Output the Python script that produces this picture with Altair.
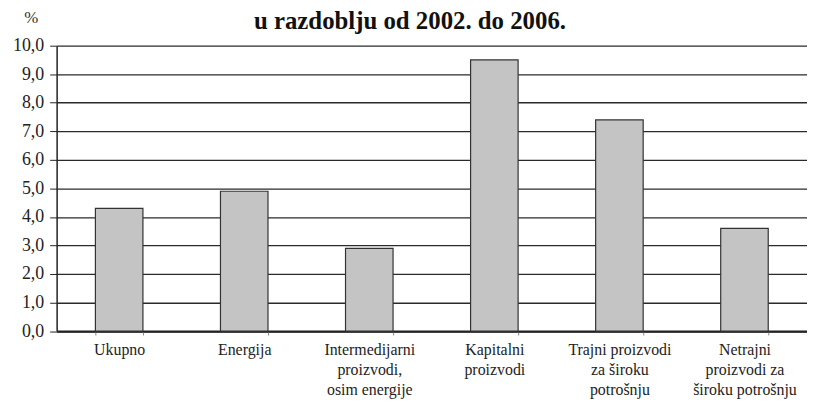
import altair as alt
import pandas as pd

categories = [
    "Ukupno",
    "Energija",
    "Intermedijarni|proizvodi,|osim energije",
    "Kapitalni|proizvodi",
    "Trajni proizvodi|za široku|potrošnju",
    "Netrajni|proizvodi za|široku potrošnju",
]
values = [4.3, 4.9, 2.9, 9.5, 7.4, 3.6]
y_ticks = [0, 1, 2, 3, 4, 5, 6, 7, 8, 9, 10]
title_text = "u razdoblju od 2002. do 2006."
y_unit = "%"

df = pd.DataFrame({"cat": categories, "val": values})

FONT = "Liberation Serif"

bars = alt.Chart(df).mark_bar(
    color="#c4c4c4", stroke="#333333", strokeWidth=1.2
).encode(
    x=alt.X(
        "cat:N",
        sort=None,
        scale=alt.Scale(paddingInner=0.62, paddingOuter=0.31),
        axis=alt.Axis(
            title=None,
            labelAngle=0,
            labelExpr="split(datum.label, '|')",
            labelFont=FONT,
            labelFontSize=16,
            labelColor="#222222",
            labelLineHeight=20,
            labelPadding=7,
            labelBaseline="top",
            tickBand="extent",
            tickSize=4,
            tickColor="#888888",
            domainColor="#222222",
            domainWidth=2,
            grid=False,
        ),
    ),
    y=alt.Y(
        "val:Q",
        scale=alt.Scale(domain=[0, 10]),
        axis=alt.Axis(
            values=y_ticks,
            labelExpr="replace(format(datum.value, '.1f'), '.', ',')",
            labelFont=FONT,
            labelFontSize=18,
            labelColor="#222222",
            labelPadding=6,
            tickSize=7,
            tickColor="#222222",
            domainColor="#222222",
            domainWidth=1.5,
            grid=True,
            gridColor="#2a2a2a",
            gridWidth=1.3,
            title=y_unit,
            titleAngle=0,
            titleFont=FONT,
            titleFontSize=17,
            titleFontWeight="normal",
            titleColor="#333333",
            titleX=-26,
            titleY=-23,
            titleAlign="center",
            titleBaseline="alphabetic",
        ),
    ),
)

title = alt.Chart(pd.DataFrame({"t": [title_text]})).mark_text(
    font=FONT, fontSize=25, fontWeight="bold", color="#111111",
    align="center", baseline="alphabetic"
).encode(
    text="t:N",
    x=alt.value(356),
    y=alt.value(-16.5),
)

chart = alt.layer(bars, title).properties(
    width=756,
    height=287.5,
    autosize=alt.AutoSizeParams(type="none"),
    padding={"left": 49, "top": 36.5, "right": 0, "bottom": 70},
).configure_view(stroke=None)

chart.save("out.html", embed_options={"renderer": "svg", "actions": False})
